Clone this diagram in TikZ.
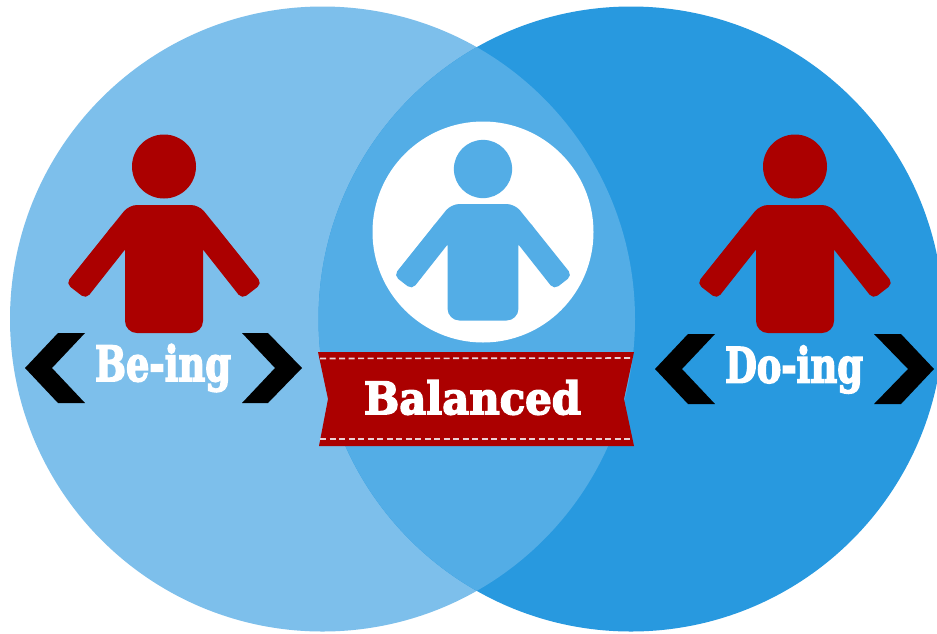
\documentclass[tikz,border=0pt]{standalone}
\usepackage{fontspec}
\setmainfont{DejaVu Serif}[BoldFont={DejaVu Serif Bold},BoldFeatures={FakeBold=3.5}]
\definecolor{beingblue}{HTML}{7DBFEB}
\definecolor{doingblue}{HTML}{2899DF}
\definecolor{midblue}{HTML}{53ADE6}
\definecolor{ribbonred}{HTML}{AB0000}
\definecolor{stitch}{HTML}{EBD0D4}
\tikzset{
  labeltext/.style={text=white,inner sep=0pt,font=\bfseries\fontsize{35}{35}\selectfont},
  chevron/.style={fill=black,draw=none},
  pics/person/.style={code={
    \fill[#1] (0,0) circle[radius=32];
    % torso
    \fill[#1,rounded corners=12pt] (-39,50) rectangle (39,166.5);
    % shoulders and arms
    \fill[#1,rounded corners=8pt] (0,38.5) -- (35,38.5) -- (60,69.5) -- (30,90) -- (-30,90) -- (-60,69.5) -- (-35,38.5) -- cycle;
    \fill[#1,rounded corners=5.5pt] (50,57) -- (98,117) -- (78,132.5) -- (35,78) -- cycle;
    \fill[#1,rounded corners=5.5pt] (-50,57) -- (-98,117) -- (-78,132.5) -- (-35,78) -- cycle;
  }}
}
\begin{document}
\begin{tikzpicture}[x=1pt,y=-1pt]
\useasboundingbox (0,0) rectangle (937,633);
\fill[white] (0,0) rectangle (937,633);
\begin{scope}
\clip (0,0) rectangle (937,633);
\fill[beingblue] (322.5,319) circle[radius=312.5];
\fill[doingblue] (631,319) circle[radius=312.5];
\begin{scope}
\clip (322.5,319) circle[radius=312.5];
\fill[midblue] (631,319) circle[radius=312.5];
\end{scope}
\end{scope}
% figures
\pic at (164,166.5) {person=ribbonred};
\pic at (795,166.5) {person=ribbonred};
\fill[white] (483,232) circle[radius=110.5];
\pic[scale=0.91] at (483,169) {person=midblue};
% chevrons
\fill[chevron] (85,333) -- (58,333) -- (25,368) -- (58,403) -- (85,403) -- (52,368) -- cycle;
\fill[chevron] (242,333) -- (268,333) -- (302,368) -- (268,403) -- (242,403) -- (275,368) -- cycle;
\fill[chevron] (715,334) -- (688,334) -- (655,369) -- (688,404) -- (715,404) -- (682,369) -- cycle;
\fill[chevron] (874,334) -- (901,334) -- (934,369) -- (901,404) -- (874,404) -- (908,369) -- cycle;
% ribbon
\fill[ribbonred] (318,352) -- (634,352) -- (624,399) -- (634,446) -- (319,446) -- (328,399) -- cycle;
\draw[stitch,line width=1.6pt,dash pattern=on 6pt off 3.5pt] (320,358.5) -- (632,358);
\draw[stitch,line width=1.6pt,dash pattern=on 6pt off 3.5pt] (320,439) -- (632,439);
% labels
\node[labeltext] (being) at (163,368) {\resizebox{136pt}{37pt}{Be-ing}};
\node[labeltext] (doing) at (794,369.5) {\resizebox{138pt}{37pt}{Do-ing}};
\node[labeltext] (balanced) at (472.5,397.5) {\resizebox{217pt}{34pt}{Balanced}};
\end{tikzpicture}
\end{document}
